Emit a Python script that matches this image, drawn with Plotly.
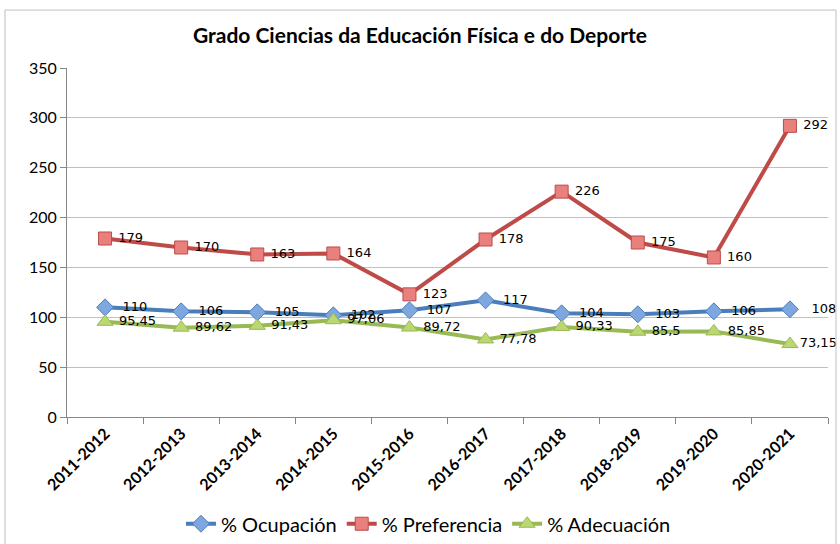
import plotly.graph_objects as go

cursos = ["2011-2012", "2012-2013", "2013-2014", "2014-2015", "2015-2016",
          "2016-2017", "2017-2018", "2018-2019", "2019-2020", "2020-2021"]
ocupacion = [110, 106, 105, 102, 107, 117, 104, 103, 106, 108]
preferencia = [179, 170, 163, 164, 123, 178, 226, 175, 160, 292]
adecuacion = [95.45, 89.62, 91.43, 97.06, 89.72, 77.78, 90.33, 85.5, 85.85, 73.15]


def fmt(v):
    s = f"{v:g}"
    return s.replace(".", ",")


series = [
    ("% Ocupación", ocupacion, "#4A7EBB", "#7DA7DE", "diamond", 13, ["  "] * 9 + ["   "]),
    ("% Preferencia", preferencia, "#BE4B48", "#E8817E", "square", 13, [" "] * 10),
    ("% Adecuación", adecuacion, "#98B954", "#BBD771", "triangle-up", 14, [" "] * 9 + [""]),
]

fig = go.Figure()
for name, vals, line_c, fill_c, sym, size, pads in series:
    fig.add_trace(go.Scatter(
        name=name, x=cursos, y=vals,
        mode="lines+markers+text",
        text=[p + fmt(v) for p, v in zip(pads, vals)],
        textposition="middle right",
        textfont=dict(family="DejaVu Sans", size=13, color="black"),
        line=dict(color=line_c, width=4),
        marker=dict(symbol=sym, size=size, color=fill_c,
                    line=dict(color=line_c, width=1)),
        cliponaxis=False,
    ))

# outer chart border
fig.add_shape(type="rect", xref="paper", yref="paper",
              x0=-0.0815, x1=1.0105, y0=-0.38, y1=1.166,
              line=dict(color="#BFBFBF", width=1), fillcolor="rgba(0,0,0,0)")

fig.update_layout(
    width=840, height=544,
    margin=dict(l=67, r=12, t=68, b=127, autoexpand=False),
    paper_bgcolor="white", plot_bgcolor="white",
    title=dict(text="<b>Grado Ciencias da Educación Física e do Deporte</b>",
               x=0.5, xanchor="center", y=0.935, yanchor="middle",
               font=dict(family="Lato", size=21, color="black")),
    legend=dict(orientation="h", x=0.475, xanchor="center", y=-0.25, yanchor="top",
                font=dict(family="Lato", size=20, color="black"),
                itemwidth=30, traceorder="normal"),
    xaxis=dict(type="category", range=[-0.5, 9.5], tickangle=-45, tickson="boundaries",
               ticks="outside", ticklen=6, tickcolor="#868686",
               showline=True, linecolor="#868686", linewidth=1,
               showgrid=False, automargin=False,
               tickfont=dict(family="Lato", size=16, color="black", weight="bold")),
    yaxis=dict(range=[0, 350], dtick=50, ticks="outside", ticklen=6,
               tickcolor="#868686", showline=True, linecolor="#868686",
               gridcolor="#C0C0C0", gridwidth=1, zeroline=False, automargin=False,
               tickfont=dict(family="Lato", size=16, color="black")),
)

fig.write_html("out.html", config={"displayModeBar": False},
               post_script="document.body.style.margin='0';")
